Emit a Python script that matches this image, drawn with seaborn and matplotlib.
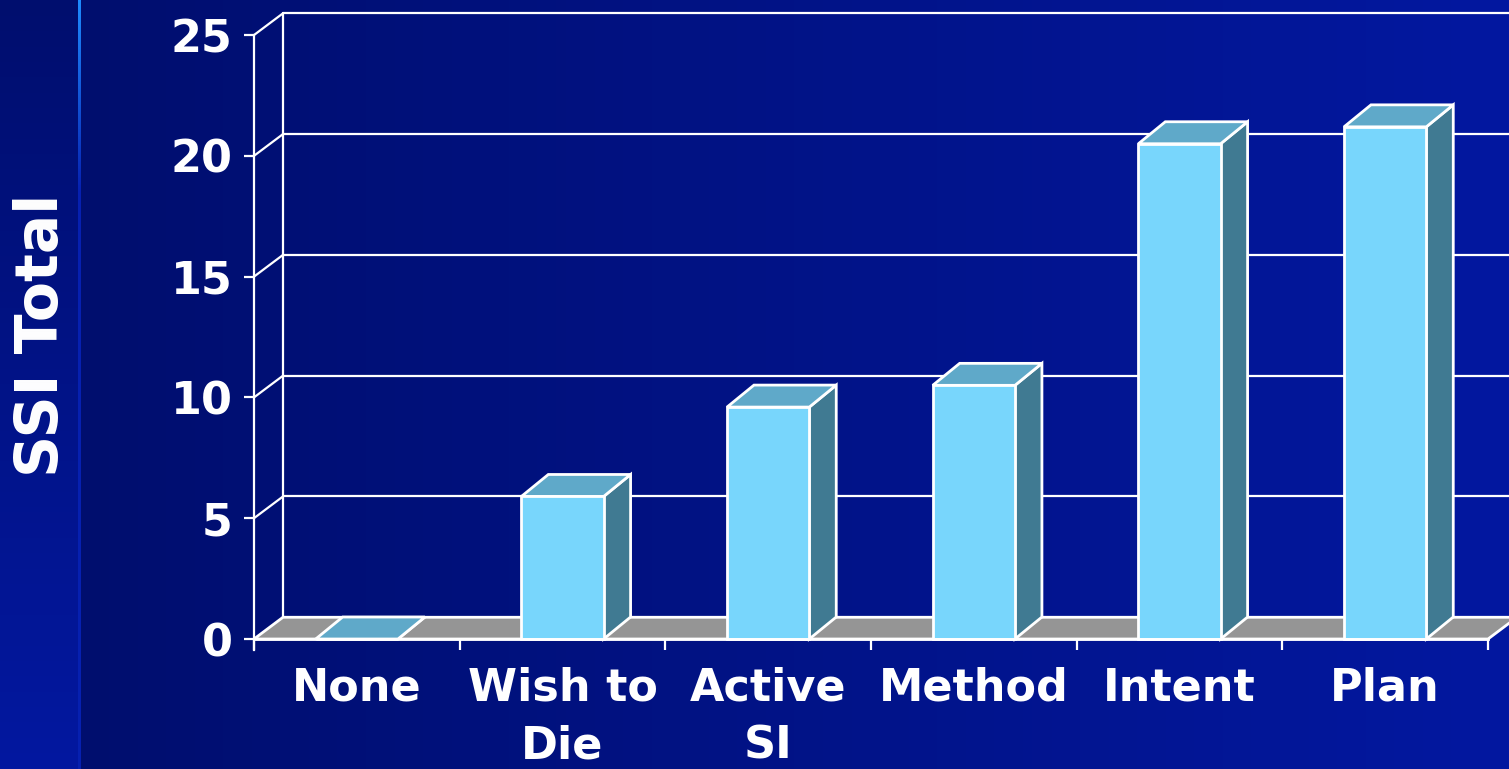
import numpy as np
import pandas as pd
import seaborn as sns
import matplotlib.pyplot as plt
from matplotlib.patches import Polygon

CATEGORIES = ["None", "Wish to\nDie", "Active\nSI", "Method", "Intent", "Plan"]
SSI_TOTAL = [0, 5.9, 9.6, 10.5, 20.5, 21.2]
Y_TICKS = [0, 5, 10, 15, 20, 25]

FRONT = "#78d6fc"
TOP = "#5fa9c9"
SIDE = "#407a92"
FLOOR = "#959595"

W, H = 1509, 769

sns.set_style("white")
plt.rcParams["font.family"] = ["DejaVu Sans"]

fig = plt.figure(figsize=(W / 100, H / 100), dpi=100)

# background gradients (slide style)
bg = fig.add_axes([0, 0, 1, 1], zorder=-10)
xx = np.linspace(0, 1, W)[None, :, None]
yy = np.linspace(0, 1, H)[:, None, None]
dark = np.array([0x00, 0x0e, 0x6e]) / 255
light = np.array([0x03, 0x18, 0xa0]) / 255
img = dark + (light - dark) * np.clip((xx * W - 80) / (W - 80), 0, 1) * np.ones_like(yy)
strip = dark + (light - dark) * yy * np.ones_like(xx)
img[:, :78] = strip[:, :78]
glow_top = np.array([0x1e, 0x8c, 0xff]) / 255
glow_bot = np.array([0x06, 0x20, 0xb0]) / 255
glow = glow_top + (glow_bot - glow_top) * np.clip(yy[:, 0] * 4, 0, 1)
img[:, 78:81] = glow[:, None, :]
bg.imshow(img, aspect="auto", extent=[0, 1, 0, 1])
bg.axis("off")

ax = fig.add_axes([254 / W, 109 / H, 1255 / W, 660 / H])
ax.set_facecolor("none")

df = pd.DataFrame({"level": CATEGORIES, "ssi": SSI_TOTAL})
sns.barplot(data=df, x="level", y="ssi", color=FRONT, saturation=1,
            width=0.40, edgecolor="white", linewidth=2, ax=ax, zorder=6)

ax.set_xlim(-0.5, 5.602)
ax.set_ylim(-0.869, 26.45)

# depth of the walls and bars in data units
wdx, wdy = 0.141, 0.90
bdx, bdy = 0.131, 0.91

bars = list(ax.patches)

# floor
ax.add_patch(Polygon([(-0.5, 0), (5.5, 0), (5.5 + wdx, wdy), (-0.5 + wdx, wdy)],
                     facecolor=FLOOR, edgecolor="white", lw=2, zorder=2))

# back wall and side wall lines
x_back = -0.5 + wdx
ax.plot([x_back, x_back], [wdy, 25 + wdy], color="white", lw=1.6, zorder=1)
for v in Y_TICKS[1:]:
    ax.plot([x_back, 5.602], [v + wdy, v + wdy], color="white", lw=1.6, zorder=1)
    ax.plot([-0.5, x_back], [v, v + wdy], color="white", lw=1.6, zorder=1)

# 3D top and side faces
for p in bars:
    l = p.get_x()
    r = l + p.get_width()
    h = p.get_height()
    ax.add_patch(Polygon([(r, 0), (r + bdx, bdy), (r + bdx, h + bdy), (r, h)],
                         facecolor=SIDE, edgecolor="white", lw=2, zorder=5))
    ax.add_patch(Polygon([(l, h), (r, h), (r + bdx, h + bdy), (l + bdx, h + bdy)],
                         facecolor=TOP, edgecolor="white", lw=2, zorder=5))

# axes
for s in ["top", "right"]:
    ax.spines[s].set_visible(False)
ax.spines["left"].set_color("white")
ax.spines["left"].set_linewidth(1.6)
ax.spines["left"].set_bounds(-0.455, 25)
ax.spines["bottom"].set_color("white")
ax.spines["bottom"].set_linewidth(2)
ax.spines["bottom"].set_position(("data", 0))
ax.spines["bottom"].set_bounds(-0.5, 5.5)
ax.spines["bottom"].set_zorder(7)

ax.set_yticks(Y_TICKS)
ax.set_yticklabels([str(t) for t in Y_TICKS])
ax.tick_params(axis="y", left=True, direction="out", length=7.5, width=1.6,
               color="white", labelcolor="white", labelsize=32, pad=8)
for t in ax.get_yticklabels():
    t.set_fontweight("bold")

ax.set_xticks(range(len(CATEGORIES)))
ax.set_xticklabels(CATEGORIES, fontweight="bold", linespacing=1.42)
ax.set_xticks(np.arange(-0.5, 6, 1), minor=True)
ax.tick_params(axis="x", which="major", bottom=True, length=0,
               labelcolor="white", labelsize=32, pad=20)
ax.tick_params(axis="x", which="minor", bottom=True, direction="out",
               length=8, width=1.6, color="white")
ax.set_xlabel("")
ax.set_ylabel("")

fig.text(42 / W, 1 - 335 / H, "SSI Total", rotation=90, color="white",
         fontsize=42, fontweight="bold", ha="center", va="center")

fig.savefig("out.png", dpi=100)
